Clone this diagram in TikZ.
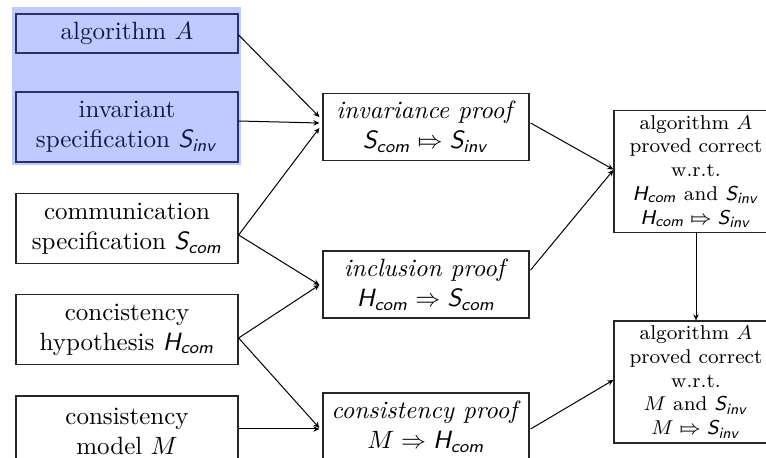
\documentclass[tikz,border=0pt]{standalone}
\usepackage{amsmath}
\usepackage{amssymb}
\usepackage{tikz}
\usetikzlibrary{arrows.meta,calc}

\DeclareMathAlphabet{\mathssl}{OT1}{cmss}{m}{sl}
\newcommand{\Sinv}{\mathssl{S}_{\mathssl{inv}}}
\newcommand{\Scom}{\mathssl{S}_{\mathssl{com}}}
\newcommand{\Hcom}{\mathssl{H}_{\mathssl{com}}}
\newcommand{\Mapsarrow}{\mathrel{\mapstochar\Rightarrow}}

\begin{document}
\begin{tikzpicture}[x=0.4pt,y=0.4pt,yscale=-1,xscale=1,
  inbox/.style={draw=black!85,line width=0.5pt,align=center,minimum width=88.8pt,inner sep=1pt},
  proofbox/.style={draw=black!85,line width=0.5pt,align=center,minimum width=82.4pt,minimum height=26.8pt,inner sep=1pt},
  resbox/.style={draw=black!85,line width=0.5pt,align=center,minimum width=65.6pt,minimum height=48.8pt,inner sep=1pt,font=\footnotesize},
  arr/.style={-{Stealth[length=2.4pt,width=2.2pt]},line width=0.4pt}]
\useasboundingbox (0,0) rectangle (766,458);
\clip (0,0) rectangle (766,458);

% Text Node
\node [inbox,minimum height=15.6pt] (alg) at (127,33.5) {algorithm $A$};
% Text Node
\node [inbox,minimum height=28pt] (inv) at (127,127) {invariant\\specification $\Sinv$};
% Text Node
\node [inbox,minimum height=28pt] (com) at (127,228.5) {communication\\specification $\Scom$};
% Text Node
\node [inbox,minimum height=28pt] (hyp) at (127,329.5) {concistency\\hypothesis $\Hcom$};
% Text Node
\node [inbox,minimum height=28pt] (mdl) at (127,431) {consistency\\model $M$};

% Text Node
\node [proofbox] (ip) at (426,127) {\textit{invariance proof}\\$\Scom \Mapsarrow \Sinv$};
% Text Node
\node [proofbox] (incl) at (426,284.5) {\textit{inclusion proof}\\$\Hcom \Rightarrow \Scom$};
% Text Node
\node [proofbox] (cp) at (426,426.5) {\textit{consistency proof}\\$M \Rightarrow \Hcom$};

% Text Node
\node [resbox] (rt) at (696,171.5) {algorithm $A$\\proved correct\\w.r.t.\\$\Hcom$ and $\Sinv$\\$\Hcom \Mapsarrow \Sinv$};
% Text Node
\node [resbox] (rb) at (696,382) {algorithm $A$\\proved correct\\w.r.t.\\$M$ and $\Sinv$\\$M \Mapsarrow \Sinv$};

%Shape: Rectangle (highlight)
\fill [color={rgb, 255:red, 45; green, 78; blue, 255 }, fill opacity=0.3] (12,7) rectangle (241,165);

%Straight Lines
\draw [arr] ($(alg.east)+(0,1.5)$) -- ($(ip.west)+(-3,-10)$);
\draw [arr] ($(inv.east)+(0,-6)$) -- ($(ip.west)+(-3,-4)$);
\draw [arr] ($(com.east)+(0,6.5)$) -- ($(ip.west)+(-3,1)$);
\draw [arr] ($(com.east)+(0,6.5)$) -- ($(incl.west)+(-3,0.5)$);
\draw [arr] ($(hyp.east)+(0,8.5)$) -- ($(incl.west)+(-3,0.5)$);
\draw [arr] ($(hyp.east)+(0,8.5)$) -- ($(cp.west)+(-3,1.5)$);
\draw [arr] ($(mdl.east)+(0,-2)$) -- ($(cp.west)+(-3,2.5)$);

%Straight Lines
\draw [arr] ($(ip.east)+(1,-4)$) -- ($(rt.west)+(0,-2)$);
\draw [arr] ($(incl.east)+(1,-14.5)$) -- ($(rt.west)+(0,-1.5)$);
\draw [arr] ($(cp.east)+(1,2.5)$) -- ($(rb.west)+(0,-2)$);
\draw [arr] (rt.south) -- (rb.north);

\end{tikzpicture}
\end{document}
